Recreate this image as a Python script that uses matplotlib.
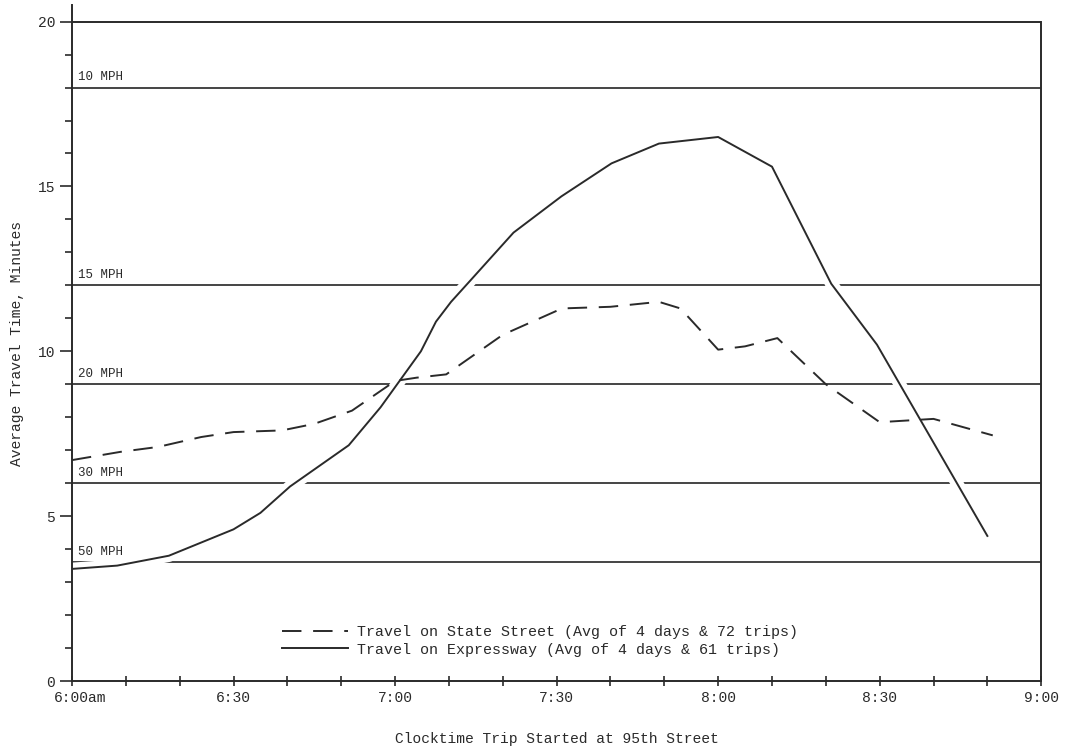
import numpy as np
import matplotlib
matplotlib.use('Agg')
import matplotlib.pyplot as plt
import matplotlib.patheffects as pe
from matplotlib.ticker import MultipleLocator, FixedLocator
from matplotlib.transforms import ScaledTranslation

# minutes after 6:00am, travel time in minutes
state_min = [0, 9, 16, 24, 30, 39, 45, 52, 60, 64, 69.5, 80, 91, 100, 109, 113, 120, 125, 131, 140, 150, 160, 171]
state_val = [6.7, 6.95, 7.1, 7.4, 7.55, 7.6, 7.8, 8.2, 9.1, 9.2, 9.3, 10.5, 11.3, 11.35, 11.5, 11.3, 10.05, 10.15, 10.4, 9.0, 7.85, 7.95, 7.45]

expr_min = [0, 8.4, 18, 30, 35, 40.5, 51.4, 57.3, 64.8, 67.6, 70.4, 74, 82, 90.9, 100.2, 109, 120, 130, 141, 149.5, 170]
expr_val = [3.4, 3.5, 3.8, 4.6, 5.1, 5.9, 7.15, 8.3, 10.0, 10.9, 11.5, 12.15, 13.6, 14.7, 15.7, 16.3, 16.5, 15.6, 12.05, 10.2, 4.4]

# constant speed reference lines (minutes for the 3 mile trip)
speed_labels = ['10 MPH', '15 MPH', '20 MPH', '30 MPH', '50 MPH']
speed_times = [18, 12, 9, 6, 3.6]

xtick_pos = [0, 30, 60, 90, 120, 150, 180]
xtick_lab = ['6:00am', '6:30', '7:00', '7:30', '8:00', '8:30', '9:00']

plt.rcParams['font.family'] = ['Liberation Mono', 'DejaVu Sans Mono']
ink = '#2a2a2a'

fig = plt.figure(figsize=(10.71, 7.51), dpi=100)
ax = fig.add_axes([0.0672, 0.0932, 0.905, 0.9])

ax.set_xlim(0, 180)
ax.set_ylim(0, 20.5)

# reference lines
ax.axhline(20, color=ink, lw=1.4, zorder=1)
for lab, t in zip(speed_labels, speed_times):
    ax.axhline(t, color='#444444', lw=1.4, zorder=1)
    ax.text(1.1, t + 0.13, lab, fontsize=9, color=ink, va='bottom', ha='left', zorder=1)

halo = [pe.withStroke(linewidth=9, foreground='white')]
ax.plot(expr_min, expr_val, color=ink, lw=1.4, zorder=3, path_effects=halo,
        label='Travel on Expressway (Avg of 4 days & 61 trips)')
ax.plot(state_min, state_val, color=ink, lw=1.4, dashes=(10, 6), zorder=4,
        label='Travel on State Street (Avg of 4 days & 72 trips)')

handles, labels = ax.get_legend_handles_labels()
leg = ax.legend(handles[::-1], labels[::-1], loc='upper left', bbox_to_anchor=(0.21, 0.092),
                frameon=False, fontsize=10.8, handlelength=4.4, handletextpad=0.6,
                labelspacing=0.25, borderaxespad=0)
for t in leg.get_texts():
    t.set_color(ink)

# axes look
ax.spines['top'].set_visible(False)
ax.spines['right'].set_bounds(0, 20)
for s in ['left', 'right', 'bottom']:
    ax.spines[s].set_color(ink)
    ax.spines[s].set_linewidth(1.4)
    ax.spines[s].set_zorder(6)

ax.xaxis.set_major_locator(FixedLocator(xtick_pos))
ax.set_xticklabels(xtick_lab)
ax.xaxis.set_minor_locator(MultipleLocator(10))
ax.tick_params(axis='x', which='both', direction='inout', length=7, width=1.2, color=ink,
               labelsize=10.5, labelcolor=ink, pad=4)
first = ax.get_xticklabels()[0]
first.set_transform(first.get_transform() + ScaledTranslation(0.08, 0, fig.dpi_scale_trans))

ax.set_yticks([0, 5, 10, 15, 20])
ax.yaxis.set_minor_locator(MultipleLocator(1))
ax.tick_params(axis='y', which='major', direction='out', length=9, width=1.2, color=ink,
               labelsize=10.5, labelcolor=ink, pad=3)
ax.tick_params(axis='y', which='minor', direction='out', length=5, width=1.2, color=ink)

ax.set_xlabel('Clocktime Trip Started at 95th Street', fontsize=10.5, color=ink, labelpad=19)
ax.set_ylabel('Average Travel Time, Minutes', fontsize=10.5, color=ink, labelpad=10)

fig.savefig('out.png', dpi=100)
